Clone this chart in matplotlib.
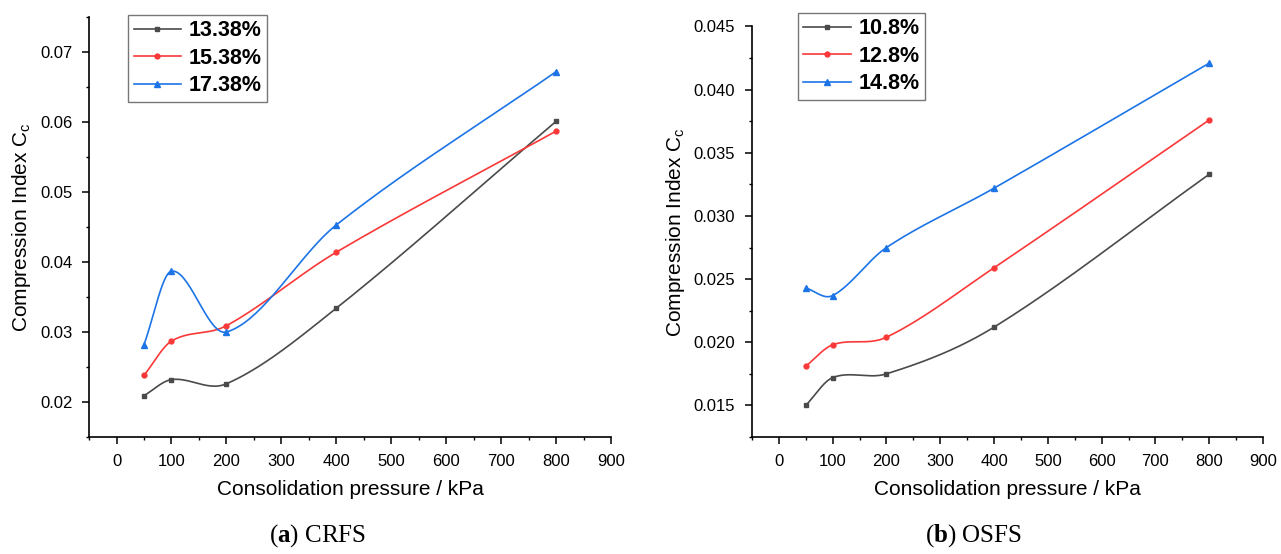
import numpy as np
import matplotlib
matplotlib.use('Agg')
import matplotlib.pyplot as plt
from matplotlib.ticker import MultipleLocator

plt.rcParams['font.family'] = 'Liberation Sans'
plt.rcParams['mathtext.fontset'] = 'custom'
plt.rcParams['mathtext.rm'] = 'Liberation Sans'
plt.rcParams['mathtext.bf'] = 'Liberation Serif:bold'

pressure = [50, 100, 200, 400, 800]

# (a) CRFS
crfs_labels = ['13.38%', '15.38%', '17.38%']
crfs_1338 = [0.0209, 0.0232, 0.0226, 0.0334, 0.0601]
crfs_1538 = [0.0238, 0.0287, 0.0309, 0.0414, 0.0587]
crfs_1738 = [0.0282, 0.0387, 0.0300, 0.0453, 0.0672]

# (b) OSFS
osfs_labels = ['10.8%', '12.8%', '14.8%']
osfs_108 = [0.0150, 0.0172, 0.0175, 0.0212, 0.0333]
osfs_128 = [0.0181, 0.0198, 0.0204, 0.0259, 0.0376]
osfs_148 = [0.0243, 0.0237, 0.0275, 0.0322, 0.0421]

colors = ['#4a4a4a', '#fa3838', '#1c74e6']
markers = ['s', 'o', '^']
msizes = [3.5, 3.5, 4.5]


def smooth(x, y, n=60):
    # cubic hermite with catmull-rom style tangents (non-uniform spacing)
    x = np.asarray(x, float)
    y = np.asarray(y, float)
    m = np.zeros_like(y)
    m[0] = (y[1] - y[0]) / (x[1] - x[0])
    m[-1] = (y[-1] - y[-2]) / (x[-1] - x[-2])
    for i in range(1, len(x) - 1):
        m[i] = (y[i + 1] - y[i - 1]) / (x[i + 1] - x[i - 1])
    xs, ys = [], []
    for i in range(len(x) - 1):
        h = x[i + 1] - x[i]
        t = np.linspace(0, 1, n)
        h00 = 2 * t**3 - 3 * t**2 + 1
        h10 = t**3 - 2 * t**2 + t
        h01 = -2 * t**3 + 3 * t**2
        h11 = t**3 - t**2
        xs.append(x[i] + t * h)
        ys.append(h00 * y[i] + h10 * h * m[i] + h01 * y[i + 1] + h11 * h * m[i + 1])
    return np.concatenate(xs), np.concatenate(ys)


def draw(ax, series, labels, ylim, ymaj, ymin, yfmt, leg_anchor):
    for s, lab, c, mk, ms in zip(series, labels, colors, markers, msizes):
        xs, ys = smooth(pressure, s)
        ax.plot(xs, ys, color=c, lw=1.2)
        ax.plot(pressure, s, ls='none', marker=mk, color=c, ms=ms)
        ax.plot([], [], color=c, lw=1.2, marker=mk, ms=ms, label=lab)
    ax.set_xlim(-50, 900)
    ax.set_ylim(*ylim)
    ax.xaxis.set_major_locator(MultipleLocator(100))
    ax.xaxis.set_minor_locator(MultipleLocator(50))
    ax.yaxis.set_major_locator(MultipleLocator(ymaj))
    ax.yaxis.set_minor_locator(MultipleLocator(ymin))
    ax.yaxis.set_major_formatter(plt.FormatStrFormatter(yfmt))
    ax.spines['top'].set_visible(False)
    ax.spines['right'].set_visible(False)
    for sp in ax.spines.values():
        sp.set_linewidth(1.2)
    ax.tick_params(which='major', direction='out', length=5, width=1.1, labelsize=12, pad=7)
    ax.tick_params(which='minor', direction='out', length=2.5, width=1.0)
    ax.set_xlabel('Consolidation pressure / kPa', fontsize=15, labelpad=8)
    ax.set_ylabel('Compression Index C$_\\mathrm{c}$', fontsize=15, labelpad=5)
    leg = ax.legend(loc='upper left', bbox_to_anchor=leg_anchor, prop={'weight': 'bold', 'size': 15.5},
                    frameon=True, fancybox=False, edgecolor='#555555', handlelength=2.2,
                    handletextpad=0.35, borderpad=0.25, labelspacing=0.3, borderaxespad=0)
    leg.get_frame().set_linewidth(1.0)


fig = plt.figure(figsize=(12.81, 5.54), dpi=100)
ax1 = fig.add_axes([0.0695, 0.2112, 0.4075, 0.758])
ax2 = fig.add_axes([0.587, 0.2112, 0.399, 0.741])

draw(ax1, [crfs_1338, crfs_1538, crfs_1738], crfs_labels, (0.015, 0.075), 0.01, 0.005, '%.2f',
     (0.075, 1.005))
draw(ax2, [osfs_108, osfs_128, osfs_148], osfs_labels, (0.0125, 0.045), 0.005, 0.0025, '%.3f',
     (0.09, 1.033))

fig.text(0.248, 0.022, '($\\mathbf{a}$) CRFS', family='Liberation Serif', fontsize=18, ha='center')
fig.text(0.76, 0.022, '($\\mathbf{b}$) OSFS', family='Liberation Serif', fontsize=18, ha='center')

fig.savefig('out.png', dpi=100)
